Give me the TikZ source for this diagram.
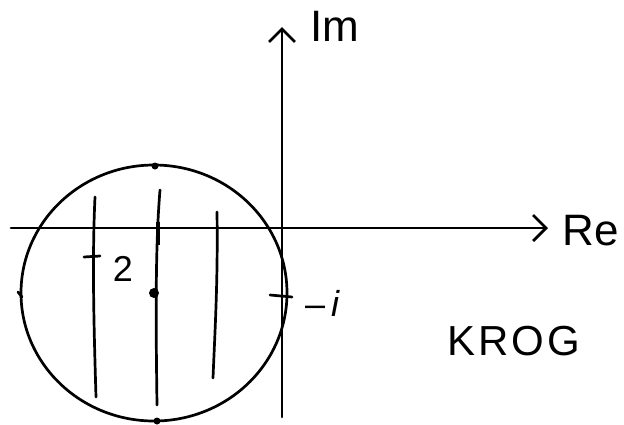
\documentclass[tikz,border=0pt]{standalone}
\usepackage{fontspec}
\setmainfont{Liberation Sans}
\usetikzlibrary{arrows.meta}
\begin{document}
\begin{tikzpicture}[x=1pt,y=-1pt,
  pen/.style={line width=2.7pt,line cap=round,line join=round,black},
  axis/.style={pen,-{Straight Barb[length=13pt,width=26pt,line width=2.7pt]}},
  lbl/.style={inner sep=0pt,font=\fontsize{44}{46}\selectfont},
  small/.style={inner sep=0pt,font=\fontsize{36}{38}\selectfont}]
\useasboundingbox (0,0) rectangle (624,424);
\fill[white] (0,0) rectangle (624,424);
% axes
\coordinate (xs) at (11,228);
\coordinate (xe) at (548,228);
\coordinate (ys) at (282,417);
\coordinate (ye) at (282,27);
\draw[axis] (xs) -- (xe);
\draw[axis] (ys) -- (ye);
\node[lbl] (re) at (591,231) {Re};
\node[lbl] (im) at (335,26) {Im};
% circle
\coordinate (c) at (154,293);
\draw[pen] (c) ellipse [x radius=133, y radius=128];
\fill (c) circle (5pt);
\fill (155,166) circle (3.5pt);
\fill (157,421) circle (3.5pt);
% vertical lines
\coordinate (l1t) at (95,197); \coordinate (l1b) at (96,397);
\coordinate (l2t) at (160,190); \coordinate (l2b) at (157,405);
\coordinate (l3t) at (217,212); \coordinate (l3b) at (213,378);
\draw[pen] (l1t) .. controls (92,260) and (94,330) .. (l1b);
\draw[pen] (l2t) .. controls (155,250) and (156,330) .. (l2b);
\draw[pen] (l3t) .. controls (218,280) and (215,330) .. (l3b);
\draw[line width=4pt] (158,222) -- (158,245);
% ticks
\coordinate (t1a) at (84,257); \coordinate (t1b) at (100,256);
\draw[pen] (t1a) -- (t1b);
\coordinate (t2a) at (270,295); \coordinate (t2b) at (292,297);
\draw[pen] (t2a) -- (t2b);
\coordinate (t3a) at (18,292); \coordinate (t3b) at (22,297);
\draw[pen] (t3a) -- (t3b);
% labels
\node[small] (two) at (123,269) {2};
\node[small,anchor=west] (mi) at (305,303) {–\,\textit{i}};
\node[lbl,font=\fontsize{42}{44}\selectfont\addfontfeatures{LetterSpace=7}] (krog) at (514,341) {KROG};
\end{tikzpicture}
\end{document}
